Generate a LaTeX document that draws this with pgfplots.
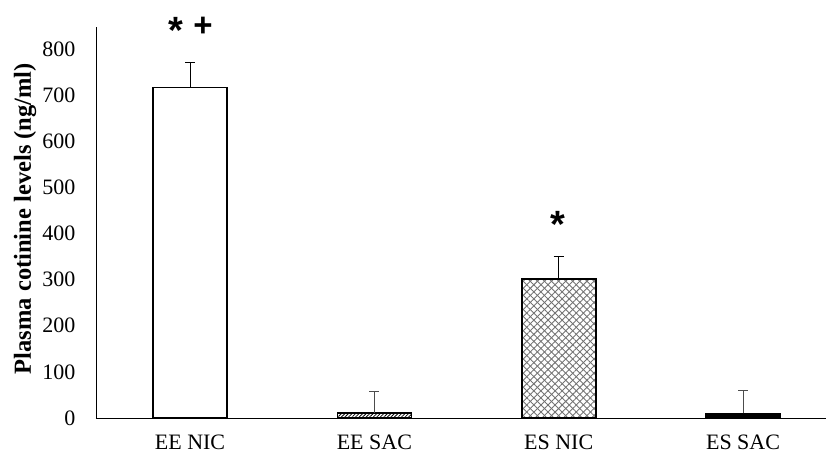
\documentclass[border=0pt]{standalone}
\usepackage{pgfplots}
\pgfplotsset{compat=1.18}
\usepackage{fontspec}
\setmainfont{Liberation Serif}
\newfontfamily\marksfont{Liberation Sans}
\usetikzlibrary{patterns.meta}

\begin{document}
\fontsize{22}{26}\selectfont
\begin{tikzpicture}
\useasboundingbox (-96pt,-40pt) rectangle (730pt,418pt);
\begin{axis}[
  at={(0,0)}, anchor=south west,
  scale only axis, width=730pt, height=391pt,
  xmin=-0.51, xmax=3.45, ymin=0, ymax=848,
  axis lines*=left,
  axis line style={black, line width=0.8pt},
  ytick={0,100,...,800},
  xtick={0,1,2,3},
  xticklabels={EE NIC, EE SAC, ES NIC, ES SAC},
  major tick length=0pt,
  /pgf/number format/assume math mode=true,
  tick label style={font=\fontsize{22}{26}\selectfont},
  yticklabel style={xshift=-13pt},
  xticklabel style={yshift=-9pt},
  ylabel={\textbf{Plasma cotinine levels (ng/ml)}},
  every axis y label/.append style={at={(axis description cs:-0.097,0.51)}, anchor=center,
    font=\fontsize{24.5}{28}\selectfont},
  ybar, bar width=74pt, bar shift=0pt,
  clip=false,
  error bars/y dir=plus,
  error bars/y explicit,
  error bars/error bar style={line width=1pt},
  error bars/error mark options={rotate=90, mark size=5pt, line width=1pt},
]
% EE NIC
\addplot[draw=black, line width=1.6pt, fill=white,
  error bars/error bar style={black, line width=1pt}]
  coordinates {(0,717) +- (0,54)};
% EE SAC
\addplot[draw=black, line width=1.6pt,
  pattern={Lines[angle=45,distance=2.5pt,line width=0.8pt]}, pattern color=black,
  error bars/error bar style={black!70, line width=1pt}]
  coordinates {(1,11) +- (0,46)};
% ES NIC: diamond cross-hatch
\addplot[draw=none,
  pattern={Lines[angle=45,distance=5pt,line width=0.9pt]}, pattern color=black!55]
  coordinates {(2,301)};
\addplot[draw=black, line width=1.6pt,
  pattern={Lines[angle=-45,distance=5pt,line width=0.9pt]}, pattern color=black!55,
  error bars/error bar style={black, line width=1pt}]
  coordinates {(2,301) +- (0,50)};
% ES SAC
\addplot[draw=black, line width=1.6pt, fill=black,
  error bars/error bar style={black!70, line width=1pt}]
  coordinates {(3,10) +- (0,49)};

% significance marks
\node[font=\marksfont\bfseries\fontsize{38}{38}\selectfont, yshift=-7pt] at (axis cs:-0.077,855) {*};
\node[font=\marksfont\bfseries\fontsize{33}{33}\selectfont, yshift=-3pt] at (axis cs:0.07,855) {+};
\node[font=\marksfont\bfseries\fontsize{38}{38}\selectfont, yshift=-7pt] at (axis cs:1.996,435) {*};
\end{axis}
\end{tikzpicture}
\end{document}
